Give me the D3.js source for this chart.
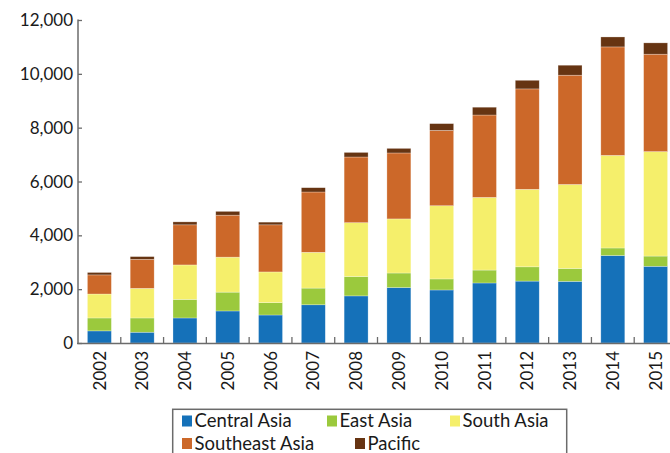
<!DOCTYPE html>
<html>
<head>
<meta charset="utf-8">
<script src="https://cdn.jsdelivr.net/npm/d3@7"></script>
<style>
  html, body { margin: 0; padding: 0; background: #fff; }
  svg { display: block; font-family: Lato, "Open Sans", sans-serif; }
</style>
</head>
<body>
<svg id="chart" width="670" height="453"></svg>
<script>
const years = ["2002","2003","2004","2005","2006","2007","2008","2009","2010","2011","2012","2013","2014","2015"];
const seriesNames = ["Central Asia","East Asia","South Asia","Southeast Asia","Pacific"];
const centralAsia   = [450, 400, 930, 1190, 1040, 1420, 1750, 2060, 1970, 2230, 2300, 2290, 3250, 2850];
const eastAsia      = [480, 530, 690, 700, 460, 620, 720, 540, 410, 480, 530, 480, 280, 380];
const southAsia     = [890, 1100, 1280, 1300, 1140, 1330, 2000, 2010, 2720, 2700, 2880, 3120, 3440, 3880];
const southeastAsia = [710, 1080, 1490, 1560, 1750, 2240, 2440, 2450, 2800, 3060, 3730, 4060, 4030, 3620];
const pacific       = [90, 100, 110, 140, 100, 160, 170, 170, 250, 290, 320, 370, 370, 420];
const yTicks = [0, 2000, 4000, 6000, 8000, 10000, 12000];
const colors = ["#1571b9", "#9bc93d", "#f5ef6b", "#cc6829", "#663412"];

const seriesValues = [centralAsia, eastAsia, southAsia, southeastAsia, pacific];
const rows = years.map((yr, i) => {
  const r = { year: yr };
  seriesNames.forEach((s, k) => r[s] = seriesValues[k][i]);
  return r;
});

const svg = d3.select("#chart");
const x = d3.scaleBand().domain(years).range([78, 677]).paddingInner(0.44).paddingOuter(0.22);
const y = d3.scaleLinear().domain([0, 12000]).range([343, 20]);

const stacked = d3.stack().keys(seriesNames)(rows);

svg.append("g").selectAll("g").data(stacked).join("g")
  .attr("fill", (d, i) => colors[i])
  .selectAll("rect").data(d => d).join("rect")
  .attr("x", d => x(d.data.year))
  .attr("width", x.bandwidth())
  .attr("y", d => y(d[1]))
  .attr("height", d => y(d[0]) - y(d[1]))
  .attr("stroke", "#ffffff")
  .attr("stroke-opacity", 0.45)
  .attr("stroke-width", 0.6);

const axisColor = "#6b6b6b";

// Y axis
const yAxis = d3.axisRight(y).tickValues(yTicks).tickSize(4).tickFormat("");
const gy = svg.append("g").attr("transform", "translate(78,0)").call(yAxis);
gy.select(".domain").attr("stroke", axisColor).attr("stroke-width", 1.5).attr("d", "M0,19.5V343.5");
gy.selectAll(".tick line").attr("stroke", axisColor).attr("stroke-width", 1.3);

svg.append("g").selectAll("text").data(yTicks).join("text")
  .attr("x", 73)
  .attr("y", d => y(d))
  .attr("dy", "0.36em")
  .attr("text-anchor", "end")
  .attr("font-size", 17)
  .attr("fill", "#1a1a1a")
  .text(d => d3.format(",")(d));

// X axis
const step = x.step();
const boundaries = years.slice(1).map(yr => x(yr) - x.paddingInner() * step / 2);
svg.append("line")
  .attr("x1", 77).attr("x2", 670).attr("y1", 343.5).attr("y2", 343.5)
  .attr("stroke", axisColor).attr("stroke-width", 1.5);
svg.append("g").selectAll("line").data(boundaries).join("line")
  .attr("x1", d => d).attr("x2", d => d)
  .attr("y1", 337).attr("y2", 343.5)
  .attr("stroke", axisColor).attr("stroke-width", 1.3);

svg.append("g").selectAll("text").data(years).join("text")
  .attr("transform", d => `translate(${x(d) + x.bandwidth() / 2},351) rotate(-90)`)
  .attr("dy", "0.36em")
  .attr("text-anchor", "end")
  .attr("font-size", 17)
  .attr("fill", "#1a1a1a")
  .text(d => d);

// Legend
const legend = svg.append("g");
legend.append("rect")
  .attr("x", 172.7).attr("y", 409.3).attr("width", 394).attr("height", 60)
  .attr("fill", "none").attr("stroke", axisColor).attr("stroke-width", 1.5);
const legendPos = [
  [182, 427], [327, 427], [450, 427],
  [182, 449.5], [355, 449.5]
];
seriesNames.forEach((name, i) => {
  const [lx, ly] = legendPos[i];
  legend.append("rect")
    .attr("x", lx).attr("y", ly - 11.5).attr("width", 10).attr("height", 11)
    .attr("fill", colors[i]);
  legend.append("text")
    .attr("x", lx + 12.5).attr("y", ly)
    .attr("font-size", 18.5)
    .attr("fill", "#1a1a1a")
    .text(name);
});
</script>
</body>
</html>
